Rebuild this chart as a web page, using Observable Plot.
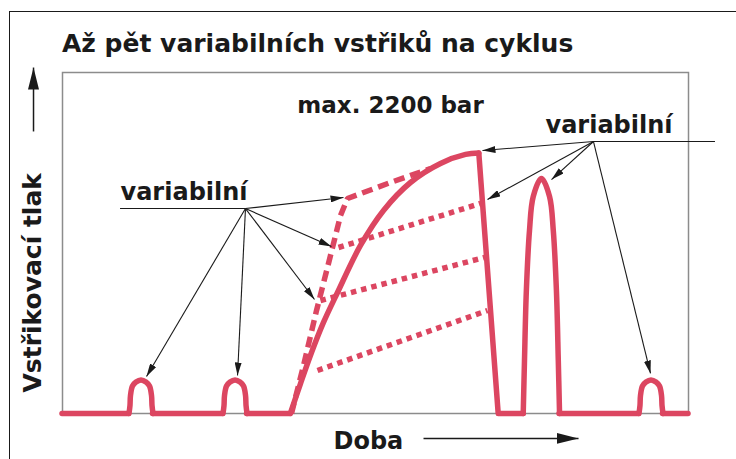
<!DOCTYPE html>
<html><head><meta charset="utf-8">
<script src="https://cdn.jsdelivr.net/npm/d3@7"></script>
<script src="https://cdn.jsdelivr.net/npm/@observablehq/plot@0.6"></script>
<style>
html,body{margin:0;padding:0;background:#fff;}
body{width:736px;height:459px;position:relative;overflow:hidden;font-family:"DejaVu Sans",sans-serif;}
#border{position:absolute;left:9px;top:11px;right:-5px;bottom:-5px;border-top:1.5px solid #1a1a1a;border-left:1.5px solid #1a1a1a;pointer-events:none;}
#title{height:62px;box-sizing:border-box;padding:29px 0 0 62px;font-size:25px;font-weight:bold;line-height:29px;color:#1a1a1a;white-space:nowrap;margin:0;}
#chart svg{display:block;}
</style></head><body>
<div id="border"></div>
<div id="title">Až pět variabilních vstřiků na cyklus</div>
<div id="chart"></div>
<script>
// time (0..100 of one cycle) and injection pressure (bar)
const pilot1   = [[10.62,0],[10.78,68],[10.86,152],[11.18,232],[11.74,266],[12.54,283],[13.34,266],[13.90,232],[14.22,152],[14.30,68],[14.46,0]];
const pilot2   = [[25.64,0],[25.80,68],[25.88,152],[26.20,232],[26.76,266],[27.56,283],[28.36,266],[28.92,232],[29.24,152],[29.32,68],[29.48,0]];
const mainRise = [[36.40,0],[38.02,253],[39.78,515],[41.69,769],[43.93,1022],[47.60,1419],[51.28,1715],[55.59,1951],[60.38,2112],[64.38,2188],[66.50,2200]];
const mainFall = [[66.50,2200],[69.60,0],[73.60,0]];
const postMain = [[73.60,0],[73.80,448],[74.10,1039],[74.60,1546],[75.20,1833],[76.50,1985],[77.80,1833],[78.40,1546],[78.90,1039],[79.20,448],[79.40,0]];
const postLate = [[92.09,0],[92.25,68],[92.33,152],[92.65,232],[93.21,266],[94.01,283],[94.81,266],[95.37,232],[95.69,152],[95.77,68],[95.93,0]];
const baseGaps = [[0,10.62],[14.46,25.64],[29.48,36.40],[79.40,92.09],[95.93,100]];
const bootRate = [[36.58,0],[38.50,405],[40.58,870],[42.81,1334],[44.41,1672],[45.53,1816],[52.40,1951],[58.79,2069]];
const rampLines = [
  [[44.09,1402],[66.77,1774]],
  [[41.21,954],[67.41,1318]],
  [[40.73,363],[67.89,870]]
];
// annotation callouts: hub -> tip
const leftHub  = [29.23,1731];
const leftTips = [[44.89,1824],[42.97,1410],[40.26,963],[13.42,312],[27.96,321]];
const rightHub = [84.82,2297];
const rightTips = [[67.09,2221],[67.89,1807],[78.12,1976],[93.93,338]];
const underlines = [[9.27,29.23,1731],[84.82,104.31,2297]];
const axisArrows = [[-4.63,2382,-4.63,2922],[57.67,-211,82.43,-211]];
// texts
const centerLabels = [["max. 2200 bar",52.40,2534]];
const startLabels  = [["variabilní",9.27,1799],["variabilní",77.16,2365],["Doba",43.29,-296]];
const yLabel       = [["Vstřikovací tlak",-3.51,177]];

const RED = "#dc4661", INK = "#1a1a1a";
const toRows = (pts, k) => pts.map(([t,p]) => ({t,p,k}));
const curved = [
  ...toRows(pilot1,"p1"), ...toRows(pilot2,"p2"), ...toRows(mainRise,"main"),
  ...toRows(postMain,"post"), ...toRows(postLate,"late")
];
const ramps = rampLines.flatMap((pts,i) => toRows(pts,"r"+i));
const callouts = [
  ...leftTips.map(([t,p]) => ({t1:leftHub[0],p1:leftHub[1],t2:t,p2:p})),
  ...rightTips.map(([t,p]) => ({t1:rightHub[0],p1:rightHub[1],t2:t,p2:p}))
];
const redLine = {stroke: RED, strokeWidth: 5.5, strokeLinejoin: "round", strokeLinecap: "round"};

const chart = Plot.plot({
  width: 736, height: 397,
  marginLeft: 62, marginRight: 48, marginTop: 10, marginBottom: 46,
  x: {domain: [0,100], axis: null},
  y: {domain: [0,2880], axis: null},
  style: {fontFamily: "DejaVu Sans", background: "transparent"},
  marks: [
    Plot.frame({stroke: "#8c8c8c", strokeWidth: 1.5}),
    Plot.line(ramps, {x:"t", y:"p", z:"k", stroke: RED, strokeWidth: 5.5, strokeDasharray: "5.5,5", strokeLinecap: "butt"}),
    Plot.line(toRows(bootRate,"b"), {x:"t", y:"p", stroke: RED, strokeWidth: 5.5, strokeDasharray: "11,6", strokeLinecap: "butt", strokeLinejoin: "miter"}),
    Plot.ruleY(baseGaps, {y: 0, x1: d => d[0], x2: d => d[1], ...redLine}),
    Plot.line(toRows(mainFall,"f"), {x:"t", y:"p", ...redLine}),
    Plot.line(curved, {x:"t", y:"p", z:"k", curve: "catmull-rom", ...redLine}),
    Plot.ruleY(underlines, {y: d => d[2], x1: d => d[0], x2: d => d[1], stroke: INK, strokeWidth: 1.1}),
    Plot.link(callouts, {x1:"t1", y1:"p1", x2:"t2", y2:"p2", stroke: INK, strokeWidth: 1.1}),
    Plot.link(axisArrows, {x1: d=>d[0], y1: d=>d[1], x2: d=>d[2], y2: d=>d[3], stroke: INK, strokeWidth: 1.5}),
    Plot.text(centerLabels, {x: d=>d[1], y: d=>d[2], text: d=>d[0], textAnchor: "middle", lineAnchor: "bottom", fontSize: 23, fontWeight: "bold", fill: INK}),
    Plot.text(startLabels, {x: d=>d[1], y: d=>d[2], text: d=>d[0], textAnchor: "start", lineAnchor: "bottom", fontSize: 24, fontWeight: "bold", fill: INK}),
    Plot.text(yLabel, {x: d=>d[1], y: d=>d[2], text: d=>d[0], textAnchor: "start", lineAnchor: "bottom", rotate: -90, fontSize: 25, fontWeight: "bold", fill: INK})
  ]
});
document.getElementById("chart").appendChild(chart);

// filled arrowheads for the link marks
const svg = d3.select(chart);
const defs = svg.insert("defs", ":first-child");
function marker(id, len, wid) {
  defs.append("marker").attr("id", id)
    .attr("viewBox", `${-len} ${-wid/2} ${len} ${wid}`)
    .attr("markerWidth", len).attr("markerHeight", wid)
    .attr("markerUnits", "userSpaceOnUse")
    .attr("refX", 0).attr("refY", 0).attr("orient", "auto")
    .append("path").attr("d", `M${-len},${-wid/2}L0,0L${-len},${wid/2}Z`).attr("fill", INK);
}
marker("ahS", 13, 7);
marker("ahL", 22, 11);
const linkGroups = svg.selectAll('g[aria-label="link"]').nodes();
if (linkGroups[0]) d3.select(linkGroups[0]).selectAll("path").attr("marker-end", "url(#ahS)");
if (linkGroups[1]) d3.select(linkGroups[1]).selectAll("path").attr("marker-end", "url(#ahL)");
</script>
</body></html>
